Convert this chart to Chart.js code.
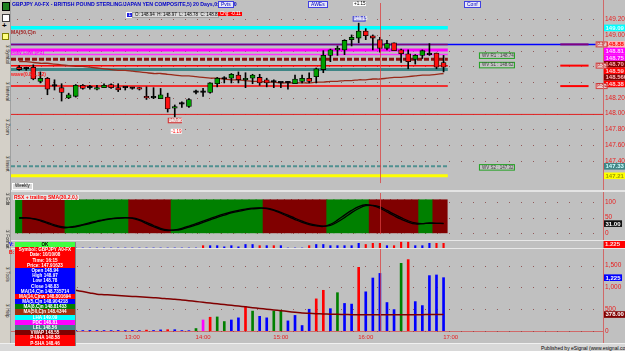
<!DOCTYPE html>
<html><head><meta charset="utf-8">
<script src="https://cdn.jsdelivr.net/npm/chart.js@4.4.1/dist/chart.umd.min.js"></script>
<style>
body{margin:0;width:625px;height:351px;overflow:hidden;background:#c0c0c0;font-family:'Liberation Sans',Arial,sans-serif;position:relative}
canvas{position:absolute}
.a{position:absolute;white-space:nowrap;line-height:1}
.dw div{height:5.2px;font-size:4.6px;font-weight:bold;color:#fff;text-align:center;line-height:5.2px;overflow:hidden}
</style></head><body>
<canvas id="cp" width="614" height="186" style="left:11px;top:3px"></canvas>
<canvas id="cr" width="614" height="47" style="left:11px;top:193px"></canvas>
<canvas id="cm" width="614" height="7" style="left:11px;top:241px"></canvas>
<canvas id="cv" width="614" height="96" style="left:11px;top:249px"></canvas>
<div id="ov"></div>
<script>
const times=["11:40","11:45","11:50","11:55","12:00","12:05","12:10","12:15","12:20","12:25","12:30","12:35","12:40","12:45","12:50","12:55",
"13:00","13:05","13:10","13:15","13:25","13:30","13:35","13:45","13:50","13:55",
"14:00","14:05","14:10","14:15","14:25","14:30","14:35","14:40","14:45","14:50","14:55",
"15:00","15:05","15:10","15:15","15:20","15:25","15:30","15:35","15:40","15:45","15:50","15:55",
"16:00","16:05","16:10","16:15","16:20","16:25","16:30","16:35","16:40","16:45","16:50","16:55","17:00"];
const opens=[148.59,148.57,148.59,148.41,148.45,148.35,148.33,148.20,148.22,148.36,148.33,148.31,148.33,148.37,148.33,148.33,148.32,148.33,148.21,148.20,148.19,148.21,148.07,148.12,148.09,148.27,148.27,148.27,148.38,148.44,148.45,148.49,148.43,148.45,148.46,148.43,148.40,148.39,148.39,148.38,148.41,148.45,148.47,148.56,148.74,148.81,148.81,148.94,148.96,149.05,148.99,148.94,148.83,148.90,148.81,148.76,148.69,148.74,148.75,148.77,148.65];
const highs=[148.61,148.59,148.62,148.53,148.46,148.43,148.38,148.26,148.37,148.37,148.36,148.36,148.38,148.38,148.38,148.34,148.33,148.33,148.34,148.33,148.32,148.26,148.11,148.15,148.19,148.30,148.32,148.39,148.46,148.47,148.51,148.53,148.52,148.50,148.50,148.45,148.43,148.40,148.41,148.49,148.49,148.52,148.58,148.80,148.82,148.86,148.94,149.00,149.15,149.08,149.00,148.97,148.93,148.90,148.82,148.81,148.75,148.81,148.89,148.77,148.74];
const lows=[148.55,148.55,148.43,148.39,148.24,148.30,148.16,148.19,148.21,148.31,148.31,148.30,148.33,148.32,148.28,148.30,148.31,148.30,148.18,148.19,148.19,148.02,147.96,148.08,148.08,148.25,148.22,148.26,148.34,148.39,148.39,148.39,148.33,148.38,148.36,148.34,148.33,148.33,148.31,148.38,148.39,148.39,148.39,148.52,148.66,148.74,148.75,148.86,148.90,148.94,148.81,148.78,148.81,148.80,148.65,148.57,148.63,148.70,148.74,148.57,148.53];
const closes=[148.56,148.57,148.44,148.45,148.31,148.35,148.27,148.24,148.36,148.32,148.33,148.33,148.36,148.33,148.30,148.33,148.32,148.31,148.20,148.20,148.24,148.06,148.09,148.12,148.18,148.27,148.27,148.39,148.45,148.44,148.50,148.43,148.45,148.49,148.39,148.39,148.40,148.39,148.39,148.44,148.45,148.41,148.57,148.74,148.81,148.83,148.93,148.97,149.05,148.99,148.96,148.83,148.89,148.80,148.76,148.66,148.74,148.80,148.75,148.59,148.59];
const ma50=[148.66,148.66,148.65,148.64,148.64,148.63,148.62,148.61,148.60,148.60,148.59,148.58,148.57,148.56,148.55,148.55,148.54,148.53,148.52,148.51,148.51,148.50,148.49,148.48,148.48,148.47,148.46,148.45,148.45,148.44,148.43,148.43,148.42,148.41,148.41,148.40,148.40,148.39,148.39,148.39,148.39,148.39,148.40,148.40,148.41,148.41,148.42,148.42,148.43,148.43,148.44,148.44,148.45,148.46,148.46,148.47,148.48,148.49,148.49,148.50,148.51];
const levelNames=["LHA","Pivot","PDC","Prev Low (P1)","PDL","S1","LEL","S2","wave","WV S2","Weekly"];
const levelVals=[149.09,148.88,148.81,148.75,148.69,148.61,148.56,148.35,147.99,147.33,147.21];
const pivotNames=["P-P","P-S1","P-S2"];
const pivotVals=[148.88,148.61,148.35];
const wvNames=["WV R1","WV S1","WV S2"];
const wvVals=[148.74,148.62,147.32];
const priceTicks=[149.2,149.0,148.8,148.6,148.4,148.2,148.0,147.8,147.6,147.4];
const tagVals=[149.09,148.88,148.81,148.75,148.69,148.59,148.5608,148.38,147.33,147.21];
const tagTexts=["149.09","148.88","148.81","148.75","148.70","148.59","148.5608","148.38","147.33","147.21"];
const rsx=[50,49,46,40,32,24,18,19,23,28,34,39,44,47,49,50,48,41,31,21,13,9,11,16,23,31,39,47,55,62,68,73,77,80,81,79,73,64,54,44,35,28,24,22,29,42,58,73,85,91,88,80,68,56,45,36,30,31,33,32,31];
const rsxSignal=[48,49,47,42,35,27,21,19,21,26,31,37,42,46,48,49,49,44,35,25,16,11,10,13,20,27,35,43,51,58,65,70,75,78,80,80,75,67,58,48,39,31,26,23,25,36,50,66,79,88,89,84,73,61,50,40,33,31,32,32,32];
const rsxTicks=[0,50,100];
const miniVals=[0,0,0,0,0,0,0,0,0,0,0,0,0,0,0,0,0,0,0,0,0,0,0,0,0,0,2,2,2,1,2,1,3,3,2,2,2,2,0,0,0,2,3,3,2,2,2,2,4,3,4,4,2,2,5,5,2,2,4,4,4];
const miniTone="bbbbbbbbbbbbbbbbbbbbbbbbbbrbbbbbbbrbrbbbbrbbbbbbbrrrbrrrbbbrr".split("");
const volumes=[15,12,18,10,14,12,10,16,12,10,14,12,10,10,12,10,12,10,20,12,25,30,30,10,8,57,253,316,323,217,253,302,563,457,337,302,457,478,232,358,126,500,738,935,513,880,633,618,1462,900,1217,1323,654,492,1555,1640,675,584,1272,1287,1225];
const volTone="bbbbbbbbbbbbbbbbbbrbbrbbbgmrggbbrgbbggbbbbrrbgbbrbbbbbgrbbbbb".split("");
const volMA=[1200,1165,1130,1095,1060,1030,1000,965,935,905,875,845,835,825,815,805,795,785,775,765,755,740,728,712,695,678,660,642,625,608,590,572,555,536,517,500,483,466,448,430,411,405,398,392,387,382,378,375,373,372,373,374,373,372,373,374,375,376,377,378,378];
const volTicks=[0,500,1000,1500];
const cursorIndex=51;

Chart.defaults.font.family="'Liberation Sans', Arial, sans-serif";
Chart.defaults.animation=false;
Chart.defaults.plugins.legend.display=false;
Chart.defaults.plugins.tooltip.enabled=false;
const X0=-1.152, X1=82.54;
const N=closes.length;
const xs=()=>({type:'linear',min:X0,max:X1,offset:false,display:false,bounds:'data',grace:0});
const pts=arr=>arr.map((v,i)=>({x:i,y:v}));
function yAxis(min,max,ticks,fmt){
  return {position:'right',min,max,
    afterFit(s){s.width=22;},
    afterBuildTicks(s){s.ticks=ticks.map(v=>({value:v}));},
    border:{display:true,color:'#d06868'},grid:{display:false,drawTicks:false},
    ticks:{color:'#e82020',font:{size:6.5},padding:2,autoSkip:false,callback:fmt}};
}
const dotGrid={id:'dotGrid',beforeDatasetsDraw(c){
  const {ctx,chartArea:ar}=c,y=c.scales.y;ctx.save();ctx.strokeStyle='rgba(140,70,70,0.85)';ctx.lineWidth=1;ctx.setLineDash([1,11]);
  y.ticks.forEach(t=>{const py=Math.round(y.getPixelForValue(t.value))+0.5;ctx.beginPath();ctx.moveTo(ar.left+6,py);ctx.lineTo(ar.right,py);ctx.stroke();});
  ctx.restore();}};
const cursor={id:'cursor',afterDatasetsDraw(c){
  const {ctx}=c;const px=Math.round(c.scales.x.getPixelForValue(cursorIndex))+0.5;ctx.save();
  ctx.strokeStyle='rgba(220,60,60,0.75)';ctx.lineWidth=1;ctx.beginPath();ctx.moveTo(px,0);ctx.lineTo(px,c.chartArea.bottom);ctx.stroke();ctx.restore();}};
function drawTags(c,vals,texts,styles){
  const {ctx,chartArea:ar}=c,y=c.scales.y;ctx.save();ctx.font='bold 6px "Liberation Sans"';ctx.textBaseline='middle';
  let last=-99;
  vals.forEach((v,i)=>{let py=y.getPixelForValue(v);if(py<last+6.6)py=last+6.6;last=py;
    const st=styles[i];const w=ctx.measureText(texts[i]).width+3;
    ctx.fillStyle=st[0];ctx.fillRect(ar.right+1,py-3.3,w,6.6);
    ctx.fillStyle=st[1];ctx.fillText(texts[i],ar.right+2.5,py+0.3);});
  ctx.restore();
}
const bodyColor=closes.map((c,i)=>c>opens[i]?'#00a000':(c<opens[i]?'#ff1010':'#000000'));
const levelStyle=[
 {c:'#00ffff',w:3.5},{c:'#800080',w:1.5},{c:'#ff00ff',w:3},{c:'#ff30ff',w:1.5},{c:'#8a1010',w:3,d:[5,2]},
 {c:'#ff0000',w:1.5},{c:'#3f8585',w:3},{c:'#ff0000',w:1.5},{c:'#e02020',w:1,full:true},{c:'#4f9090',w:2,d:[4,2]},{c:'#ffff00',w:3}];
const lvlEnd=N-1+0.6;
const levelSets=levelVals.map((v,i)=>{const s=levelStyle[i];return {type:'line',label:levelNames[i],
  data:[{x:X0,y:v},{x:s.full?X1:lvlEnd,y:v}],borderColor:s.c,borderWidth:s.w,borderDash:s.d||[],pointRadius:0,order:5};});
const blueP={type:'line',data:[{x:X0,y:pivotVals[0]},{x:X1,y:pivotVals[0]}],borderColor:'#0000ff',borderWidth:1.5,pointRadius:0,order:6};
const pivSets=pivotVals.map((v,i)=>({type:'line',data:[{x:N+15.5,y:v},{x:N+19.5,y:v}],borderColor:i==0?'#800080':'#ff0000',borderWidth:2,pointRadius:0,order:4}));
const priceTags={id:'priceTags',afterDraw(c){
  drawTags(c,tagVals,tagTexts,[['#00ffff','#e0ffff'],['#ffb8b8','#ff0000'],['#ff00ff','#ffd0ff'],['#ff00ff','#ffd0ff'],['#800000','#ffb0b0'],['#ff0000','#ffd0d0'],['#800000','#ffc0c0'],['#ff0000','#ffd0d0'],['#3f8585','#d0ffff'],['#ffff00','#a0a000']]);
  const {ctx}=c,x=c.scales.x,y=c.scales.y;ctx.save();ctx.font='4.5px "Liberation Sans"';ctx.textBaseline='middle';
  pivotVals.forEach((v,i)=>{const py=y.getPixelForValue(v),px=x.getPixelForValue(N+20.5);
    ctx.fillStyle='#e8c8c8';ctx.fillRect(px,py-2.5,11,5);ctx.strokeStyle='#d04040';ctx.lineWidth=1;ctx.strokeRect(px+0.5,py-2.5,11,5);ctx.fillStyle='#c02020';ctx.fillText(pivotNames[i],px+1.5,py);});
  wvVals.forEach((v,i)=>{const py=y.getPixelForValue(v),px=x.getPixelForValue(N+4);
    ctx.fillStyle='#c4c4c4';ctx.fillRect(px,py-2.5,35,5.5);ctx.strokeStyle='#20a020';ctx.strokeRect(px+0.5,py-2.5,35,5.5);ctx.fillStyle='#404040';ctx.fillText(wvNames[i]+' : '+v.toFixed(2),px+3,py+0.3);});
  let hi=0,lo=0;highs.forEach((h,i)=>{if(h>highs[hi])hi=i;});lows.forEach((l,i)=>{if(l<lows[lo])lo=i;});
  let px=x.getPixelForValue(hi),py=y.getPixelForValue(highs[hi]);
  ctx.fillStyle='#b8b8e8';ctx.fillRect(px-6,py-7,13,5);ctx.strokeStyle='#4040d0';ctx.strokeRect(px-5.5,py-6.5,12,4.5);ctx.fillStyle='#fff';ctx.fillText(highs[hi].toFixed(2),px-5,py-4.3);
  px=x.getPixelForValue(lo);py=y.getPixelForValue(lows[lo]);
  ctx.fillStyle='#e0b0b0';ctx.fillRect(px-7,py+1.5,14,5);ctx.strokeStyle='#d03030';ctx.strokeRect(px-6.5,py+1.5,13,4.5);ctx.fillStyle='#fff';ctx.fillText(lows[lo].toFixed(2),px-6,py+4);
  ctx.fillStyle='#fff';ctx.fillRect(px-4,py+12,11,5);ctx.fillStyle='#ff0000';ctx.fillText((lows[lo]-highs[hi]).toFixed(2),px-3.5,py+14.5);
  ctx.restore();}};

new Chart(document.getElementById('cp'),{type:'bar',
 data:{datasets:[...levelSets,blueP,...pivSets,
  {type:'line',data:pts(ma50),borderColor:'#9a2a1a',borderWidth:1.3,pointRadius:0,tension:0.3,order:3},
  {type:'bar',data:highs.map((h,i)=>({x:i,y:[lows[i],h]})),backgroundColor:'#000',barThickness:1,grouped:false,order:2},
  {type:'bar',data:opens.map((o,i)=>({x:i,y:[o,closes[i]]})),backgroundColor:bodyColor,borderColor:'#000',borderWidth:0.8,borderSkipped:false,barThickness:5,minBarLength:1.5,grouped:false,order:1}]},
 options:{responsive:false,layout:{padding:0},scales:{x:xs(),
   y:yAxis(147.117,149.331,priceTicks,v=>v.toFixed(2))}},
 plugins:[dotGrid,cursor,priceTags]});

const bandCol=rsx.map((v,i)=>(i==0||v>=rsx[i-1])?'#008000':'#800000');
new Chart(document.getElementById('cr'),{type:'bar',
 data:{datasets:[
  {type:'line',data:pts(rsxSignal),borderColor:'#000',borderWidth:1.3,pointRadius:0,tension:0.4,order:1},
  {type:'line',data:pts(rsx),borderColor:'#000',borderWidth:1.3,pointRadius:0,tension:0.4,order:0},
  {type:'bar',data:rsx.map((v,i)=>({x:i,y:[1.5,107]})),backgroundColor:bandCol,barThickness:7.4,grouped:false,order:3}]},
 options:{responsive:false,layout:{padding:0},scales:{x:xs(),y:yAxis(-2.4,109.7,rsxTicks,v=>String(v))}},
 plugins:[dotGrid,cursor,{id:'rt',afterDraw(c){drawTags(c,[rsx[N-1]],[rsx[N-1].toFixed(2)],[['#101010','#ffffff']]);}}]});

new Chart(document.getElementById('cm'),{type:'bar',
 data:{datasets:[{data:pts(miniVals),backgroundColor:miniTone.map(t=>t=='r'?'#ff0000':'#0000ff'),barThickness:1.5}]},
 options:{responsive:false,layout:{padding:{right:22}},scales:{x:xs(),y:{min:0,max:6,display:false}}},
 plugins:[{id:'mt',afterDraw(c){const {ctx}=c;ctx.save();ctx.fillStyle='#ff0000';ctx.fillRect(593,0,21,7);ctx.fillStyle='#ffe0e0';ctx.font='bold 6px "Liberation Sans"';ctx.textBaseline='middle';ctx.fillText((volumes[N-1]/1000).toFixed(3),594,3.8);ctx.fillStyle='#d06868';ctx.fillRect(592,0,1,7);ctx.restore();}}]});

const hourIdx=times.map((t,i)=>t.endsWith(':00')?i:-1).filter(i=>i>=0);
const vcol={b:'#0000ff',r:'#ff0000',g:'#008000',m:'#ff00ff'};
const vx=Object.assign(xs(),{display:true,position:'bottom',afterFit(s){s.height=14;},
     afterBuildTicks(s){s.ticks=hourIdx.map(v=>({value:v}));},
     grid:{display:false,drawTicks:false},border:{display:true,color:'#d06868'},
     ticks:{color:'#e82020',font:{size:6},padding:3,autoSkip:false,maxRotation:0,callback:v=>times[v]}});
new Chart(document.getElementById('cv'),{type:'bar',
 data:{datasets:[
  {type:'line',data:pts(volMA),borderColor:'#800000',borderWidth:1.5,pointRadius:0,tension:0.3,order:0},
  {type:'bar',data:pts(volumes),backgroundColor:volTone.map(t=>vcol[t]),barThickness:2,order:1}]},
 options:{responsive:false,layout:{padding:0},scales:{x:vx,y:yAxis(0,1748,volTicks,v=>v.toLocaleString('en-US'))}},
 plugins:[dotGrid,cursor,{id:'vt',afterDraw(c){drawTags(c,[volumes[N-1],volMA[N-1]],[volumes[N-1].toLocaleString('en-US'),volMA[N-1].toFixed(2)],[['#0000ff','#ffffff'],['#800000','#ffffff']]);}}]});

const ov=document.getElementById('ov');
function add(html,css){const d=document.createElement('div');d.className='a';d.style.cssText=css;d.innerHTML=html;ov.appendChild(d);return d;}
add('','left:603px;top:0;width:1px;height:343px;background:#d06868');
add('','left:11px;top:190px;width:614px;height:2px;background:#e4e4e4');
add('','left:11px;top:240px;width:614px;height:1px;background:#e8e8e8');
add('','left:11px;top:248px;width:614px;height:1px;background:#e8e8e8');
add('','left:0;top:343px;width:625px;height:8px;background:#d8d8d8;border-top:1px solid #f0f0f0');
add('Published by eSignal (www.esignal.com)','left:541px;top:345.5px;font-size:5px;color:#000');
add('','left:0;top:0;width:10px;height:343px;background:#d4d0c8;border-right:1px solid #a0a0a0');
add('','left:2px;top:2px;width:6px;height:7px;background:#208020;border:1px solid #000');
add('','left:2px;top:14px;width:6px;height:6px;background:#fff;border:1px solid #404040');
add('+','left:2px;top:22px;font-size:8px;font-weight:bold;color:#000');
add('','left:2px;top:33px;width:5px;height:5px;background:#ffff80;border:1px solid #808000');
['Symbol','Interval','Zoom','Insert','Edit','Format','Tools','Help'].forEach((t,i)=>{
 add('&#9312; '+t,'top:'+(44+i*37)+'px;font-size:4.5px;color:#202020;transform:rotate(90deg);transform-origin:left top;left:9px');});
add('GBPJPY A0-FX - BRITISH POUND STERLING/JAPAN YEN COMPOSITE,5) 20 Days,0:00-0:00','left:12px;top:2px;font-size:5.2px;font-weight:bold;color:#0000c8');
[['Pvts',218],['AWEs',308],['Conf',464]].forEach(p=>add(p[0],'left:'+p[1]+'px;top:1px;font-size:5px;color:#0000c0;background:#e8e8f8;border:1px solid #4040e0;padding:0 2px'));
add('+1.15','left:353px;top:1.5px;font-size:4.5px;color:#000;background:#fff;padding:0 1px');
add('1','left:126px;top:11.5px;font-size:4.5px;color:#fff;background:#2020e0;padding:0 1.5px;border:1px solid #fff');
const cO='O: '+opens[cursorIndex].toFixed(2)+'&nbsp; H: '+highs[cursorIndex].toFixed(2)+'&nbsp; L: '+lows[cursorIndex].toFixed(2)+'&nbsp; C: '+closes[cursorIndex].toFixed(2);
add(cO,'left:132px;top:11.5px;font-size:4.5px;color:#000;background:#d8d8d8;border:1px solid #a0a0a0;padding:0 2px;width:81px');
add('Chg: '+(closes[cursorIndex]-opens[cursorIndex]).toFixed(2),'left:218px;top:11.5px;font-size:4.5px;color:#fff;background:#ff0000;padding:0 2px;width:20px');
add('MA(50,C)n','left:11px;top:30px;font-size:5px;font-weight:bold;color:#a02020');
add('Prev Low (P1)','left:11px;top:49.5px;font-size:5px;font-weight:bold;color:#ff00ff');
add('wave(0.8,1,1,2)','left:11px;top:72px;font-size:5px;font-weight:bold;color:#ff2020');
add('Weekly','left:12px;top:183px;font-size:4.5px;color:#000;background:#d8d8d8;border:1px solid #fff;padding:0 2px');
add('RSX + trailing SMA(30,2,0,)','left:13px;top:195px;font-size:5px;font-weight:bold;color:#ff0000;background:#e8e8e8;padding:0 1px');
add('V:','left:9px;top:242px;font-size:5px;font-weight:bold;color:#0000ff');
add('B:','left:9px;top:250px;font-size:5px;font-weight:bold;color:#ff0000');
const rows=[['OK','#40ff40','#000'],['Symbol: GBPJPY A0-FX','#ff0000'],['Date: 10/10/08','#ff0000'],['Time: 16:15','#ff0000'],['Price: 147.91623','#ff0000'],
['Open '+opens[cursorIndex].toFixed(2),'#0000ff'],['High '+highs[cursorIndex].toFixed(2),'#0000ff'],['Low '+lows[cursorIndex].toFixed(2),'#0000ff'],['Close '+closes[cursorIndex].toFixed(2),'#0000ff'],
['MA(14,C)n 148.735714','#0000ff'],['MA(14,C)nw 148.801694','#ff0000'],['MA(5,C)n 148.904218','#0000ff'],['MA(8,C)n 148.81433','#008000'],['MA(50,C)n 148.4344','#a03010'],
['LHA '+levelVals[0].toFixed(2),'#00ffff'],['PDC '+levelVals[2].toFixed(2),'#ff00ff'],['LEL '+levelVals[6].toFixed(2),'#3f8585'],['VWAP 148.55','#800000'],['P-UHA 148.58','#ff0000'],['P-SHA 148.46','#ff0000']];
const dw=add('','left:15px;top:242px;width:60px;border-right:1px solid #808080');dw.classList.add('dw');
rows.forEach(r=>{const d=document.createElement('div');d.textContent=r[0];d.style.background=r[1];if(r[2])d.style.color=r[2];dw.appendChild(d);});
</script>
</body></html>
